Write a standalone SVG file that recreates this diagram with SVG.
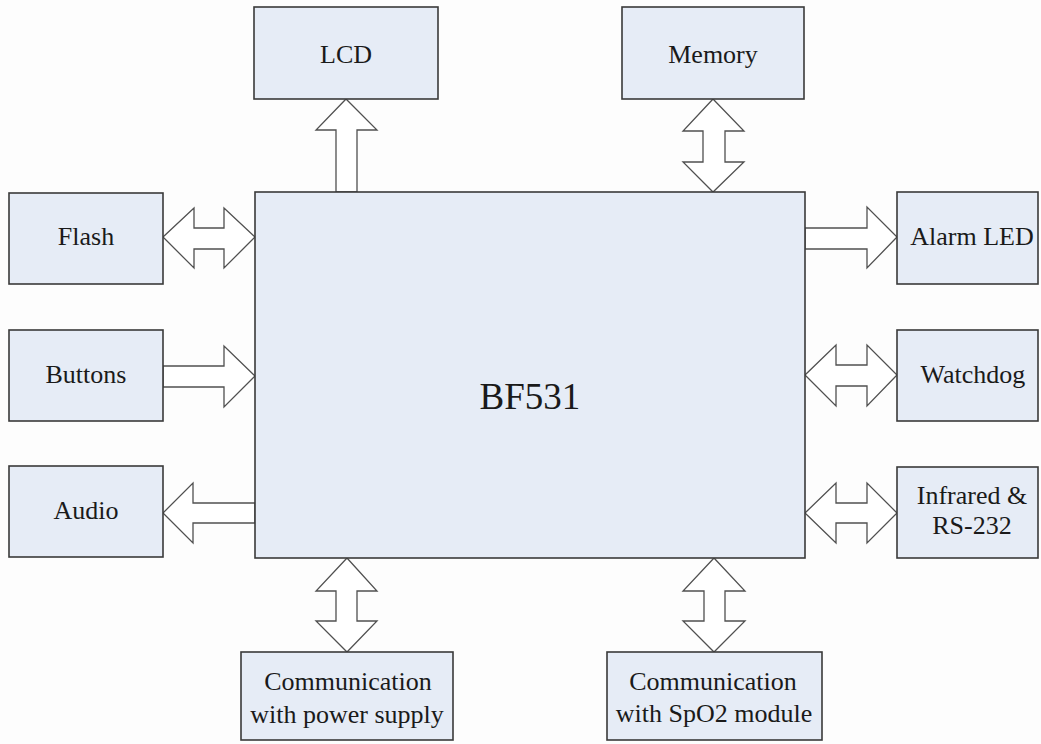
<svg xmlns="http://www.w3.org/2000/svg" width="1041" height="744" viewBox="0 0 1041 744">
<style>
.box{fill:#E6ECF6;stroke:#3a3a3a;stroke-width:1.6}
.arr{fill:#FFFFFF;stroke:#505050;stroke-width:1.3;stroke-linejoin:miter}
text{font-family:"Liberation Serif","Times New Roman",serif;fill:#1a1a1a;text-anchor:middle;font-size:26px}
.big{font-size:37px}
</style>
<rect width="1041" height="744" fill="#FDFDFD"/>
<g id="connectors">
<polygon class="arr" points="336,192 336,130 316,130 346,99 377,130 357,130 357,192"/>
<polygon class="arr" points="713,99 744,131 725,131 725,162 744,162 713,192 683,162 703,162 703,131 683,131"/>
<polygon class="arr" points="163,237 194,208 194,228 224,228 224,208 255,237 224,268 224,249 194,249 194,268"/>
<polygon class="arr" points="163,366 224,366 224,346 255,376 224,407 224,387 163,387"/>
<polygon class="arr" points="255,503 193,503 193,483 163,513 193,543 193,523 255,523"/>
<polygon class="arr" points="805,228 867,228 867,207 897,237 867,268 867,249 805,249"/>
<polygon class="arr" points="805,375 836,345 836,365 867,365 867,345 897,375 867,406 867,386 836,386 836,406"/>
<polygon class="arr" points="805,513 836,483 836,503 867,503 867,483 897,513 867,543 867,523 836,523 836,543"/>
<polygon class="arr" points="347,558 377,591 357,591 357,621 377,621 347,652 316,621 336,621 336,591 316,591"/>
<polygon class="arr" points="714,558 745,591 725,591 725,621 745,621 714,652 683,621 704,621 704,591 683,591"/>
</g>
<g id="bf531"><rect class="box" x="255" y="192" width="550" height="366"/><text class="big" x="530" y="409">BF531</text></g>
<g id="lcd"><rect class="box" x="254" y="7" width="184" height="92"/><text x="346" y="63">LCD</text></g>
<g id="memory"><rect class="box" x="622" y="7" width="182" height="92"/><text x="713" y="63">Memory</text></g>
<g id="flash"><rect class="box" x="9" y="193" width="154" height="91"/><text x="86" y="245">Flash</text></g>
<g id="buttons"><rect class="box" x="9" y="330" width="154" height="91"/><text x="86" y="383">Buttons</text></g>
<g id="audio"><rect class="box" x="9" y="466" width="154" height="91"/><text x="86" y="519">Audio</text></g>
<g id="alarm"><rect class="box" x="897" y="192" width="141" height="92"/><text x="972" y="245">Alarm LED</text></g>
<g id="watchdog"><rect class="box" x="897" y="330" width="141" height="91"/><text x="973" y="383">Watchdog</text></g>
<g id="infrared"><rect class="box" x="897" y="467" width="141" height="91"/><text x="972" y="504">Infrared &amp;</text><text x="972" y="534">RS-232</text></g>
<g id="power"><rect class="box" x="241" y="652" width="212" height="88"/><text x="348" y="690">Communication</text><text x="347" y="723">with power supply</text></g>
<g id="spo2"><rect class="box" x="607" y="652" width="215" height="88"/><text x="713" y="690">Communication</text><text x="714" y="722">with SpO2 module</text></g>
</svg>
